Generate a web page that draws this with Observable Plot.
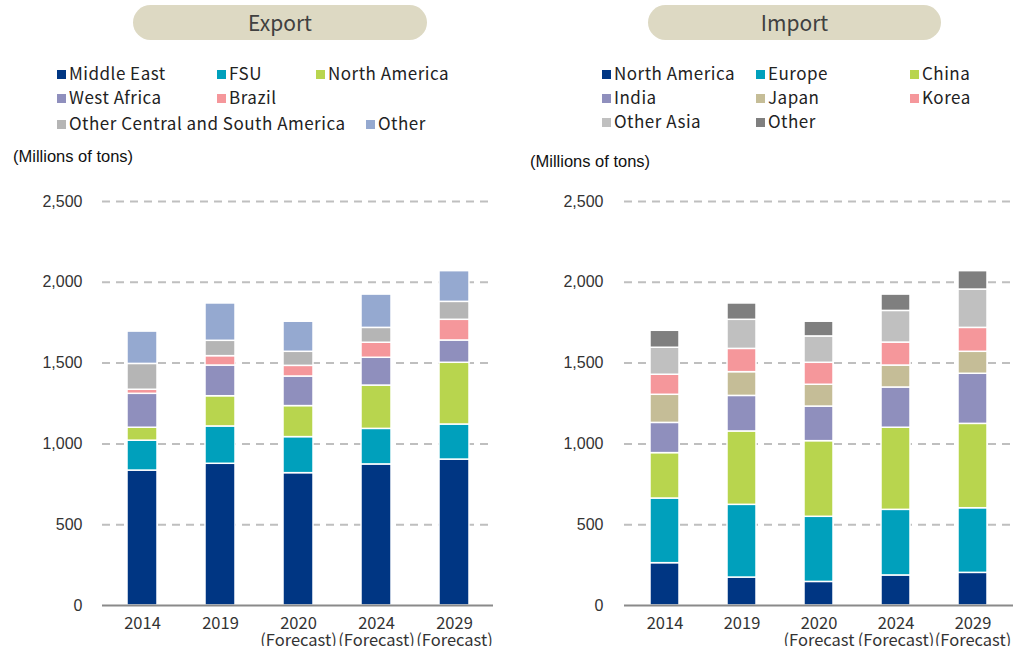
<!DOCTYPE html>
<html>
<head>
<meta charset="utf-8">
<script src="https://cdn.jsdelivr.net/npm/d3@7"></script>
<script src="https://cdn.jsdelivr.net/npm/@observablehq/plot@0.6"></script>
<style>
  html, body { margin: 0; padding: 0; background: #fff; overflow: hidden; }
  #root { position: relative; width: 1013px; height: 646px; }
  .abs { position: absolute; }
  .pill { background: #ddd9c3; border-radius: 18px; height: 35px; line-height: 35px; text-align: center;
          font-family: "Noto Sans CJK JP", "Noto Sans", sans-serif; font-size: 21px; color: #404040; }
  .leg { font-family: "Noto Sans CJK JP", "Noto Sans", sans-serif; font-size: 17px; color: #222; white-space: nowrap;
         line-height: 20px; letter-spacing: 0.5px; }
  .leg i { display: inline-block; width: 9px; height: 9px; margin-right: 3px; vertical-align: 1px; }
  .unit { font-family: "Liberation Sans", Arial, sans-serif; font-size: 16.5px; color: #111; white-space: nowrap; }
</style>
</head>
<body>
<div id="root"></div>
<script>
// ---- Data ----
const xLabels = ["2014", "2019", "2020\n(Forecast)", "2024\n(Forecast)", "2029\n(Forecast)"];
const xLabelsImport = ["2014", "2019", "2020\n(Forecast", "2024\n(Forecast)", "2029\n(Forecast)"];

const exportSeries = ["Middle East", "FSU", "North America", "West Africa", "Brazil", "Other Central and South America", "Other"];
const exMiddleEast   = [835, 877, 819, 873, 903];
const exFSU          = [185, 231, 223, 220, 217];
const exNorthAmerica = [80, 187, 192, 268, 382];
const exWestAfrica   = [210, 190, 183, 172, 138];
const exBrazil       = [25, 58, 66, 93, 128];
const exOtherCSA     = [160, 95, 87, 92, 111];
const exOther        = [200, 231, 186, 206, 190];

const importSeries = ["North America", "Europe", "China", "India", "Japan", "Korea", "Other Asia", "Other"];
const imNorthAmerica = [262, 173, 146, 186, 202];
const imEurope       = [400, 450, 403, 406, 400];
const imChina        = [281, 454, 468, 508, 522];
const imIndia        = [187, 220, 214, 249, 310];
const imJapan        = [174, 147, 135, 136, 136];
const imKorea        = [124, 144, 136, 142, 148];
const imOtherAsia    = [167, 180, 163, 196, 237];
const imOther        = [105, 101, 91, 101, 114];

const yTicks = [0, 500, 1000, 1500, 2000, 2500];

// ---- Styles ----
const exportColors = ["#003683", "#00a0bc", "#b8d54e", "#8f8fbd", "#f5979b", "#b5b5b5", "#95a9d0"];
const importColors = ["#003683", "#00a0bc", "#b8d54e", "#8f8fbd", "#c5bd97", "#f5979b", "#c0c0c0", "#7f7f7f"];

const exportValues = [exMiddleEast, exFSU, exNorthAmerica, exWestAfrica, exBrazil, exOtherCSA, exOther];
const importValues = [imNorthAmerica, imEurope, imChina, imIndia, imJapan, imKorea, imOtherAsia, imOther];

function tidy(series, values, labels) {
  const out = [];
  series.forEach((s, i) => values[i].forEach((v, j) => out.push({series: s, x: labels[j], value: v})));
  return out;
}

const root = document.getElementById("root");
function add(html, style, cls) {
  const d = document.createElement("div");
  d.className = "abs " + (cls || "");
  d.innerHTML = html;
  Object.assign(d.style, style);
  root.appendChild(d);
  return d;
}

function chart(series, values, colors, labels, opts) {
  const data = tidy(series, values, labels);
  const xFont = {tickSize: 0, fontSize: 16.5, fontFamily: "Noto Sans CJK JP, Noto Sans, sans-serif", fill: "#333", label: null};
  return Plot.plot({
    width: opts.width,
    height: 466,
    marginTop: 21,
    marginBottom: 41,
    marginLeft: opts.marginLeft,
    marginRight: opts.marginRight,
    x: {domain: labels, paddingInner: 0.62, paddingOuter: 0.31},
    y: {domain: [0, 2500]},
    color: {domain: series, range: colors},
    style: {background: "transparent", overflow: "visible"},
    marks: [
      Plot.ruleY(yTicks.filter(d => d > 0), {stroke: "#bfbfbf", strokeWidth: 2, strokeDasharray: "8,6"}),
      Plot.barY(data, {x: "x", y: "value", fill: "series", stroke: "white", strokeWidth: 1.5}),
      Plot.ruleY([0], {stroke: "#8a8a8a", strokeWidth: 2}),
      Plot.axisY({ticks: yTicks, tickSize: 0, tickPadding: opts.tickPad, tickFormat: d3.format(","),
                  fontSize: 16, fontFamily: "Liberation Sans, Arial, sans-serif", fill: "#333", label: null}),
      Plot.axisX({...xFont, tickPadding: 12, tickFormat: d => d.split("\n")[0]}),
      Plot.axisX({...xFont, tickPadding: 29, tickFormat: d => d.split("\n")[1] || ""})
    ]
  });
}

// Titles
add("Export", {left: "133px", top: "5px", width: "294px"}, "pill");
add("Import", {left: "648px", top: "5px", width: "293px"}, "pill");

// Export legend
const exLeg = [
  [exportSeries[0], 0, 57, 63], [exportSeries[1], 1, 217, 63], [exportSeries[2], 2, 316, 63],
  [exportSeries[3], 3, 57, 87], [exportSeries[4], 4, 217, 87],
  [exportSeries[5], 5, 57, 113], [exportSeries[6], 6, 366, 113]
];
exLeg.forEach(([name, ci, x, y]) =>
  add(`<i style="background:${exportColors[ci]}"></i>${name}`, {left: x + "px", top: y + "px"}, "leg"));

// Import legend
const imLeg = [
  [importSeries[0], 0, 602, 63], [importSeries[1], 1, 756, 63], [importSeries[2], 2, 910, 63],
  [importSeries[3], 3, 602, 87], [importSeries[4], 4, 756, 87], [importSeries[5], 5, 910, 87],
  [importSeries[6], 6, 602, 111], [importSeries[7], 7, 756, 111]
];
imLeg.forEach(([name, ci, x, y]) =>
  add(`<i style="background:${importColors[ci]}"></i>${name}`, {left: x + "px", top: y + "px"}, "leg"));

add("(Millions of tons)", {left: "13px", top: "147px"}, "unit");
add("(Millions of tons)", {left: "530px", top: "152px"}, "unit");

const left = chart(exportSeries, exportValues, exportColors, xLabels, {width: 506, marginLeft: 102, marginRight: 13, tickPad: 20});
const lw = add("", {left: "0px", top: "180px", width: "506px"});
lw.appendChild(left);

const right = chart(importSeries, importValues, importColors, xLabelsImport, {width: 494, marginLeft: 105, marginRight: 0, tickPad: 21});
const rw = add("", {left: "519px", top: "180px", width: "494px"});
rw.appendChild(right);
</script>
</body>
</html>
